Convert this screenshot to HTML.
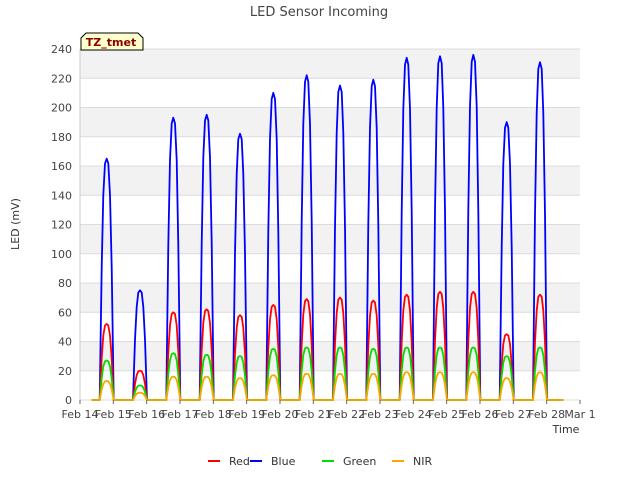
<!DOCTYPE html>
<html><head><meta charset="utf-8"><style>
body{margin:0;background:#fff;font-family:"Liberation Sans","DejaVu Sans",sans-serif}
svg text{font-family:"DejaVu Sans","Liberation Sans",sans-serif}
</style></head><body>
<svg width="640" height="480" xmlns="http://www.w3.org/2000/svg">
<text x="319" y="16" text-anchor="middle" font-size="13" fill="#444">LED Sensor Incoming</text>
<g id="grid"></g>
<g id="series"></g>
<g id="axes"></g>
<text x="19" y="224" transform="rotate(-90 19 224)" text-anchor="middle" font-size="11" fill="#333">LED (mV)</text>
<text x="566" y="433" text-anchor="middle" font-size="11" fill="#333">Time</text>
<g>
<path d="M81,50 L81,38 L86,33 L138,33 L143,38 L143,50 Z" fill="#ffffcc" stroke="#000" stroke-width="1"/>
<text x="111" y="46" text-anchor="middle" font-size="11" font-weight="bold" fill="#8b0000">TZ_tmet</text>
</g>
<g id="legend"></g>
</svg>
<script>
const days=[14,15,16,17,18,19,20,21,22,23,24,25,26,27];
const xTickLabels=["Feb 14","Feb 15","Feb 16","Feb 17","Feb 18","Feb 19","Feb 20","Feb 21","Feb 22","Feb 23","Feb 24","Feb 25","Feb 26","Feb 27","Feb 28","Mar 1"];
const yTicks=[0,20,40,60,80,100,120,140,160,180,200,220,240];
const bluePeaks=[165,75,193,195,182,210,222,215,219,234,235,236,190,231];
const redPeaks=[52,20,60,62,58,65,69,70,68,72,74,74,45,72];
const greenPeaks=[27,10,32,31,30,35,36,36,35,36,36,36,30,36];
const nirPeaks=[13,5,16,16,15,17,18,18,18,19,19,19,15,19];
const seriesNames=["Red","Blue","Green","NIR"];
const seriesColors=["#ff0000","#0000ff","#00dd00","#ffa500"];
const NS="http://www.w3.org/2000/svg";
const X0=80,X1=580,Y0=400,Y1=49;
function xs(t){return X0+(t-14)/15*(X1-X0);}
function ys(v){return Y0-v/240*(Y0-Y1);}
function mk(tag,attrs,parent){const e=document.createElementNS(NS,tag);for(const k in attrs)e.setAttribute(k,attrs[k]);parent.appendChild(e);return e;}
const grid=document.getElementById('grid');
mk('rect',{x:X0,y:Y1,width:X1-X0,height:Y0-Y1,fill:'#fff'},grid);
for(let i=0;i<yTicks.length-1;i++){
  if(i%2===1){const r=mk('rect',{x:X0,y:ys(yTicks[i+1]),width:X1-X0,height:ys(yTicks[i])-ys(yTicks[i+1]),fill:'#f2f2f2'},grid);
  
  }
}
const axes=document.getElementById('axes');
yTicks.forEach(v=>{
  mk('line',{x1:X0,x2:X1,y1:ys(v),y2:ys(v),stroke:'#dcdcdc','stroke-width':1},grid);
  const t=mk('text',{x:X0-8,y:ys(v)+4,'text-anchor':'end','font-size':11,fill:'#444'},axes);t.textContent=v;
  
  
});
xTickLabels.forEach((l,i)=>{
  const x=xs(14+i);
  mk('line',{x1:x,x2:x,y1:Y0,y2:Y0+4,stroke:'#666'},axes);
  const t=mk('text',{x:x,y:Y0+18,'text-anchor':'middle','font-size':11,fill:'#444'},axes);t.textContent=l;
  
  
});
mk('line',{x1:X0,x2:X0,y1:Y1,y2:Y0,stroke:'#ccc'},axes);
const profT=[-0.21,-0.15,-0.1,-0.05,0,0.05,0.1,0.15,0.21];
const profF=[0,0.55,0.85,0.98,1,0.98,0.85,0.55,0];
function pathFor(peaks){
  let d='M'+xs(14.35)+','+ys(0);
  days.forEach((day,i)=>{
    const c=day+0.8;
    profT.forEach((o,k)=>{d+=' L'+xs(c+o).toFixed(1)+','+ys(peaks[i]*profF[k]).toFixed(1);});
  });
  d+=' L'+xs(28.5)+','+ys(0);
  return d;
}
const ser=document.getElementById('series');
const order=[[bluePeaks,1],[redPeaks,0],[greenPeaks,2],[nirPeaks,3]];
order.forEach(([p,i])=>{
  const e=mk('path',{d:pathFor(p),fill:'none',stroke:seriesColors[i],'stroke-width':1.8,'stroke-linejoin':'round'},ser);
  
  
});
const lg=document.getElementById('legend');
const lx=[208,250,322,392];
seriesNames.forEach((n,i)=>{
  const g=mk('g',{},lg);
  
  
  mk('line',{x1:lx[i],x2:lx[i]+12,y1:461,y2:461,stroke:seriesColors[i],'stroke-width':2},g);
  const t=mk('text',{x:lx[i]+21,y:465,'font-size':11,fill:'#333'},g);t.textContent=n;
});
</script>
</body></html>
